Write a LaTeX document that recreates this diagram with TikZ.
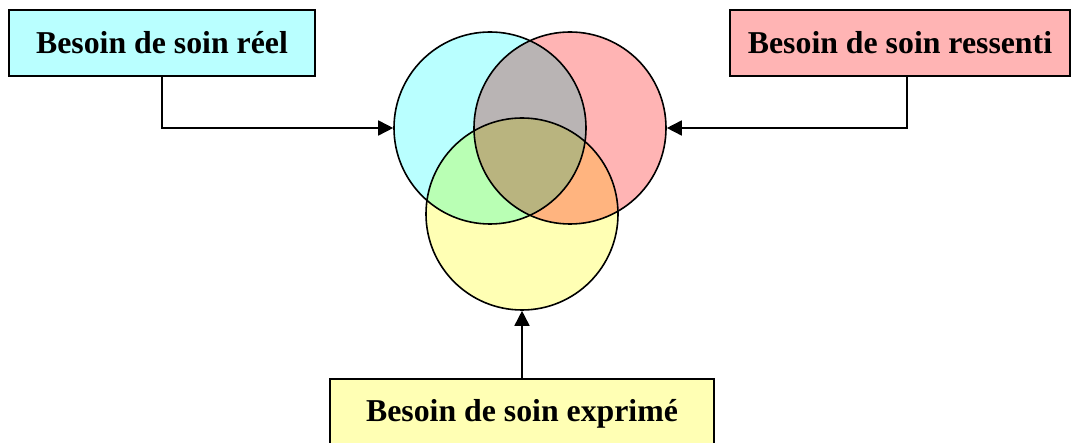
\documentclass[tikz,border=0pt]{standalone}
\usepackage{fontspec}
\setmainfont{Liberation Serif}
\usetikzlibrary{arrows.meta}

\definecolor{cyanclair}{RGB}{185,255,255}
\definecolor{roseclair}{RGB}{255,180,180}
\definecolor{jauneclair}{RGB}{255,255,180}

\begin{document}
\begin{tikzpicture}[x=1pt, y=-1pt,
    boite/.style = {draw, line width=1.6pt, minimum height=66pt, inner sep=0pt,
                    font=\fontsize{31.8}{36}\selectfont\bfseries},
    cercle/.style = {draw, circle, line width=1.6pt, minimum size=192pt, inner sep=0pt},
    fleche/.style = {line width=1.6pt, -{Triangle[length=15pt,width=15pt]}}]
            \useasboundingbox (0,0) rectangle (1071,443);
            \node[boite, fill=cyanclair, minimum width=306pt] (reel) at (162,43) {Besoin de soin réel};
            \node[boite, fill=roseclair, minimum width=340pt] (ressenti) at (900,43) {Besoin de soin ressenti};
            \node[boite, fill=jauneclair, minimum width=384pt, minimum height=70pt] (exprime) at (522,414) {Besoin de soin exprimé};
            \begin{scope}[blend mode=multiply]
            \node[cercle, fill=cyanclair] (bleu) at (490,128) {};
            \node[cercle, fill=roseclair] (rouge) at (570,128) {};
            \node[cercle, fill=jauneclair] (jaune) at (522,214) {};
            \end{scope}
            \draw[fleche] (reel.south) |- (bleu.west);
            \draw[fleche] (ressenti.south -| 907,0) |- (rouge.east);
            \draw[fleche] (exprime.north) -- (jaune.south);
        \end{tikzpicture}
\end{document}
